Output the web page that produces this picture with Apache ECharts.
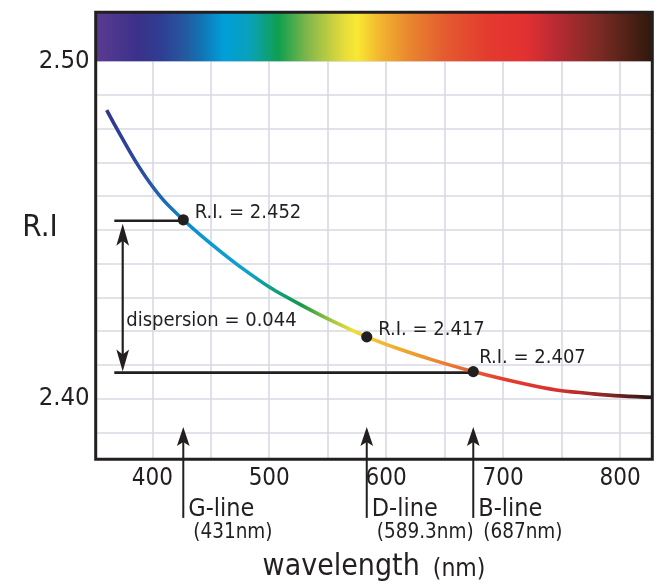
<!DOCTYPE html>
<html>
<head>
<meta charset="utf-8">
<script src="https://cdn.jsdelivr.net/npm/echarts@6/dist/echarts.min.js"></script>
<style>
html,body{margin:0;padding:0;background:#ffffff;}
#chart{width:659px;height:586px;}
</style>
</head>
<body>
<div id="chart"></div>
<script>
// ---------- data ----------
const curveNm = [361.0, 372.4, 385.2, 398.0, 410.9, 426.5, 440.8, 457.9, 475.0, 500.7, 526.3, 552.0, 583.4, 611.8, 640.3, 674.5, 697.4, 725.9, 750.1, 777.2, 800.0, 827.1];
const curveRI = [2.4855, 2.4783, 2.4706, 2.4639, 2.4583, 2.4530, 2.4486, 2.4437, 2.4391, 2.4329, 2.4279, 2.4233, 2.4183, 2.4146, 2.4114, 2.4080, 2.4060, 2.4038, 2.4023, 2.4014, 2.4008, 2.4004];

const markerName = ['G-line', 'D-line', 'B-line'];
const markerNmLabel = ['(431nm)', '(589.3nm)', '(687nm)'];
const markerRILabel = ['R.I. = 2.452', 'R.I. = 2.417', 'R.I. = 2.407'];
const markerNm = [426.5, 583.4, 674.5];
const markerRI = [2.4530, 2.4183, 2.4080];

const dispersionLabel = 'dispersion = 0.044';
const dimStartNm = 367.5;
const dimArrowNm = 374.7;
const arrowTipRI = 2.3916;

const xMin = 351.6, xMax = 827.6;
const yMin = 2.382, yMax = 2.5145;
const xTickValues = [400, 450, 500, 550, 600, 650, 700, 750, 800];
const xLabelValues = [400, 500, 600, 700, 800];
const yTickValues = [2.39, 2.40, 2.41, 2.42, 2.43, 2.44, 2.45, 2.46, 2.47, 2.48, 2.49, 2.50];
const yLabelValues = [2.40, 2.50];
const spectrumBottom = 2.50;

const spectrumNm = [351.6, 387, 407, 428, 441, 461, 484, 508, 533, 564, 575, 595, 620, 651, 688, 719, 744, 781, 827.6];
const spectrumColors = ['#5a3b91', '#3b318a', '#2f3d92', '#2559a0', '#1271b2', '#009fd9', '#0aa1b8', '#0f9f4e', '#82b84a', '#e6dc3a', '#f9e832', '#f2b52f', '#e9862f', '#e45a30', '#e43a2f', '#e33131', '#bb2a34', '#7d2b24', '#2e190c'];

const curveColorNm = [361, 395, 420, 445, 482, 505, 528, 555, 572, 595, 640, 675, 700, 745, 785, 827.1];
const curveColors = ['#30338f', '#2a4fa0', '#1577bb', '#0b98d4', '#0ea2cc', '#0f9f80', '#14994a', '#a8c83c', '#f0df36', '#f4bb2f', '#ec8a30', '#e85c30', '#e53c30', '#d8302f', '#8c2826', '#241210'];

// ---------- helpers ----------
const FONT = "'DejaVu Sans Condensed','Liberation Sans',sans-serif";
const INK = '#231f20';

function hexToRgb(h) { return [parseInt(h.substr(1,2),16), parseInt(h.substr(3,2),16), parseInt(h.substr(5,2),16)]; }
function colorAt(nm, nms, cols) {
  if (nm <= nms[0]) return cols[0];
  for (let i = 1; i < nms.length; i++) {
    if (nm <= nms[i]) {
      const t = (nm - nms[i-1]) / (nms[i] - nms[i-1]);
      const a = hexToRgb(cols[i-1]), b = hexToRgb(cols[i]);
      return 'rgb(' + a.map((v, k) => Math.round(v + (b[k] - v) * t)).join(',') + ')';
    }
  }
  return cols[cols.length - 1];
}
function stopsBetween(a, b, nms, cols) {
  const stops = [{offset: 0, color: colorAt(a, nms, cols)}];
  nms.forEach((nm, i) => {
    if (nm > a && nm < b) stops.push({offset: (nm - a) / (b - a), color: cols[i]});
  });
  stops.push({offset: 1, color: colorAt(b, nms, cols)});
  return stops;
}
function arrowHead(tx, ty, up, w, h, notch) {
  const s = up ? 1 : -1;
  return [[tx, ty], [tx + w / 2, ty + s * h], [tx, ty + s * (h - notch)], [tx - w / 2, ty + s * h]];
}

const curveData = curveNm.map((x, i) => [x, curveRI[i]]);
const riDx = [11.5, 11.5, 6];
const riDy = [-6.5, -7.5, -14];

const chart = echarts.init(document.getElementById('chart'), null, {renderer: 'canvas'});
chart.setOption({
  animation: false,
  grid: {
    left: 95.7, right: 6.7, top: 12.3, bottom: 126.7,
    outerBoundsMode: 'none',
    containLabel: false,
    show: true, z: 10, borderColor: INK, borderWidth: 3, backgroundColor: 'transparent'
  },
  xAxis: {
    type: 'value', min: xMin, max: xMax,
    axisLine: {show: false},
    axisTick: {show: false, customValues: xTickValues},
    splitLine: {show: true, lineStyle: {color: '#d9d9e3', width: 1.6}},
    axisLabel: {customValues: xLabelValues, margin: 7, fontSize: 24, fontFamily: FONT, color: INK},
    name: '{a|wavelength}{b|(nm)}',
    nameLocation: 'middle',
    nameMoveOverlap: false,
    nameGap: 89,
    nameTextStyle: {
      rich: {
        a: {fontSize: 30, fontFamily: FONT, color: INK, lineHeight: 34, verticalAlign: 'bottom'},
        b: {fontSize: 24.5, fontFamily: FONT, color: INK, lineHeight: 34, verticalAlign: 'bottom', padding: [0, 0, 0, 13]}
      }
    }
  },
  yAxis: {
    type: 'value', min: yMin, max: yMax,
    axisLine: {show: false},
    axisTick: {show: false, customValues: yTickValues},
    splitLine: {show: true, lineStyle: {color: '#d9d9e3', width: 1.6}},
    axisLabel: {customValues: yLabelValues, margin: 6, fontSize: 25.5, fontFamily: FONT, color: INK,
      formatter: v => v.toFixed(2)},
    name: 'R.I',
    nameLocation: 'middle',
    nameMoveOverlap: false,
    nameRotate: 0,
    nameGap: 38,
    nameTextStyle: {fontSize: 31, fontFamily: FONT, color: INK, verticalAlign: 'bottom', lineHeight: 16.6}
  },
  series: [
    {
      type: 'line',
      data: curveData,
      smooth: 0.25,
      showSymbol: false,
      symbol: 'none',
      z: 3,
      lineStyle: {
        width: 3.6,
        color: new echarts.graphic.LinearGradient(0, 0, 1, 0,
          stopsBetween(curveNm[0], curveNm[curveNm.length - 1], curveColorNm, curveColors))
      },
      markArea: {
        silent: true,
        itemStyle: {
          opacity: 1,
          color: new echarts.graphic.LinearGradient(0, 0, 1, 0, stopsBetween(xMin, xMax, spectrumNm, spectrumColors))
        },
        data: [[{xAxis: xMin, yAxis: spectrumBottom}, {xAxis: xMax, yAxis: yMax}]]
      }
    },
    {
      type: 'custom',
      z: 2,
      data: [[dimStartNm, markerRI[0]]],
      renderItem: function (params, api) {
        const top = api.coord([dimStartNm, markerRI[0]]);
        const g = api.coord([markerNm[0], markerRI[0]]);
        const bot = api.coord([dimStartNm, markerRI[2]]);
        const b = api.coord([markerNm[2], markerRI[2]]);
        const ax = api.coord([dimArrowNm, markerRI[0]])[0];
        const ty = top[1] + 1, by = bot[1] + 1;
        return {
          type: 'group',
          children: [
            {type: 'line', shape: {x1: top[0], y1: ty, x2: g[0], y2: ty}, style: {stroke: INK, lineWidth: 2.6}},
            {type: 'line', shape: {x1: bot[0], y1: by, x2: b[0], y2: by}, style: {stroke: INK, lineWidth: 2.6}},
            {type: 'line', shape: {x1: ax, y1: ty + 14, x2: ax, y2: by - 12}, style: {stroke: INK, lineWidth: 2.2}},
            {type: 'polygon', shape: {points: arrowHead(ax, ty + 3, true, 12.7, 22, 5)}, style: {fill: INK}},
            {type: 'polygon', shape: {points: arrowHead(ax, by - 1, false, 12.7, 22, 5)}, style: {fill: INK}},
            {type: 'text', x: ax + 3.5, y: ty + 0.66 * (by - ty),
             style: {text: dispersionLabel, fontSize: 20, fontFamily: FONT, fill: INK, align: 'left', verticalAlign: 'middle'}}
          ]
        };
      }
    },
    {
      type: 'custom',
      z: 4,
      data: markerNm.map((x, i) => [x, markerRI[i]]),
      renderItem: function (params, api) {
        const i = params.dataIndex;
        const p = api.coord([markerNm[i], markerRI[i]]);
        const tip = api.coord([markerNm[i], arrowTipRI]);
        const ax = tip[0], ty = tip[1];
        return {
          type: 'group',
          children: [
            {type: 'line', shape: {x1: ax, y1: ty + 12, x2: ax, y2: ty + 91}, style: {stroke: INK, lineWidth: 2}},
            {type: 'polygon', shape: {points: arrowHead(ax, ty, true, 12.7, 19, 4)}, style: {fill: INK}},
            {type: 'text', x: ax + 5, y: ty + 82.6,
             style: {text: markerName[i], fontSize: 25, fontFamily: FONT, fill: INK, align: 'left', verticalAlign: 'middle'}},
            {type: 'text', x: ax + 10, y: ty + 105.7,
             style: {text: markerNmLabel[i], fontSize: 20.5, fontFamily: FONT, fill: INK, align: 'left', verticalAlign: 'middle'}},
            {type: 'circle', shape: {cx: p[0], cy: p[1], r: 5.6}, style: {fill: INK}},
            {type: 'text', x: p[0] + riDx[i], y: p[1] + riDy[i],
             style: {text: markerRILabel[i], fontSize: 20, fontFamily: FONT, fill: INK, align: 'left', verticalAlign: 'middle'}}
          ]
        };
      }
    }
  ]
});
</script>
</body>
</html>
